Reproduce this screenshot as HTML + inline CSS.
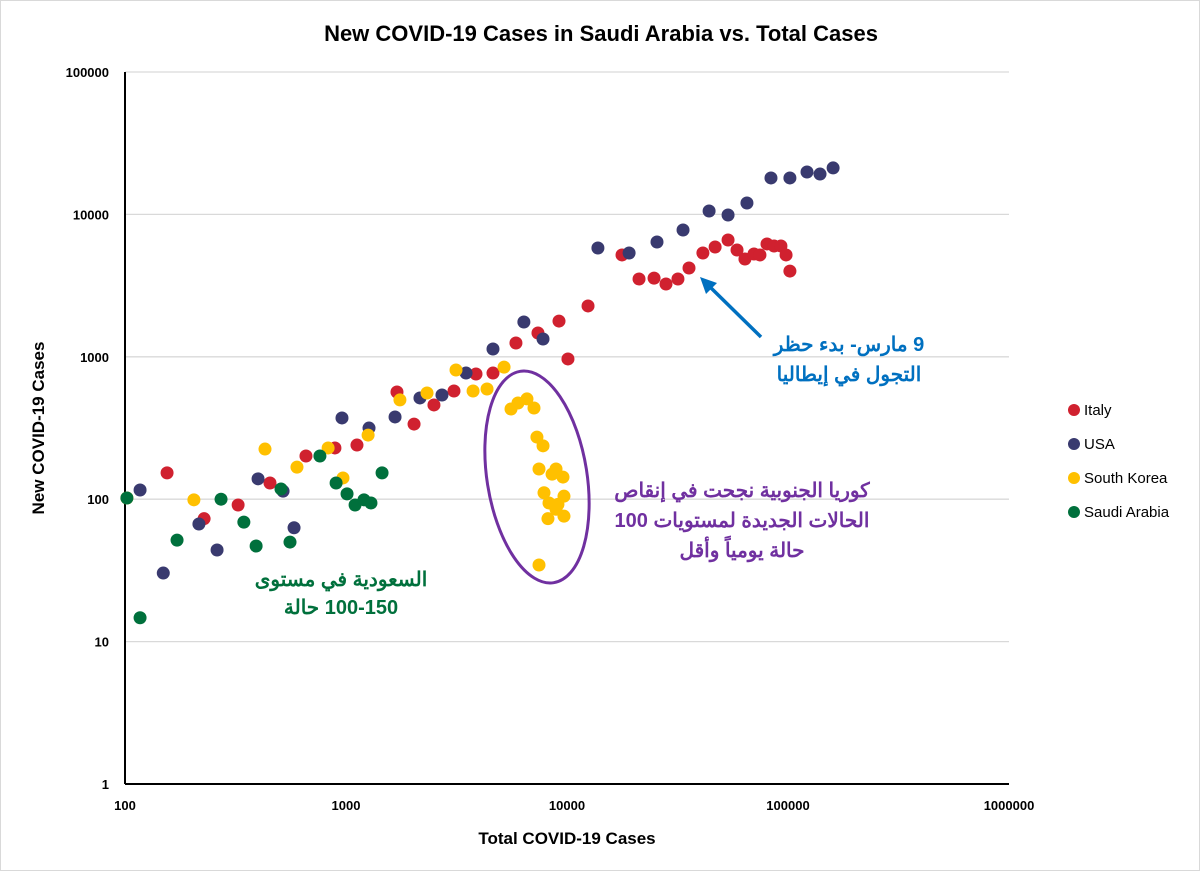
<!DOCTYPE html>
<html><head><meta charset="utf-8"><style>
html,body{margin:0;padding:0;background:#fff}
#wrap{position:relative;width:1198px;height:869px;border:1px solid #d9d9d9;overflow:hidden}
svg text{font-family:"Liberation Sans","Noto Sans CJK SC",sans-serif}
</style></head><body>
<div id="wrap">
<svg id="chart" width="1200" height="871"></svg>
</div>
<script>
const yTicks=[1,10,100,1000,10000,100000];
const xTicks=[100,1000,10000,100000,1000000];
const seriesNames=["Italy","USA","South Korea","Saudi Arabia"];
const seriesColors=["#D0212F","#393A6F","#FFC000","#00703C"];
const italyX=[155,228,325,453,659,891,1121,1701,2032,2500,3080,3875,4625,5875,7390,9200,10100,12450,17740,21180,24770,28050,31770,35650,41200,46800,53550,58800,63850,70150,74650,80350,86500,92900,98000,102000];
const italyY=[153,73,91,130,201,229,240,566,337,459,575,757,769,1250,1469,1782,966,2275,5190,3520,3570,3245,3520,4205,5360,5900,6610,5625,4860,5270,5190,6200,6000,6000,5190,4000];
const usaX=[117,149,216,261,400,519,582,959,1271,1667,2161,2718,3493,4625,6380,7790,13800,19100,25540,33500,43950,53550,65200,83750,102000,121900,139600,160000];
const usaY=[116,30.3,67,44,139,114,63,372,316,378,514,539,769,1135,1755,1333,5810,5360,6400,7770,10570,9900,12030,18030,18030,19850,19200,21200];
const koreaX=[102,205,430,600,830,969,1259,1754,2326,3146,3758,4347,5190,5580,6000,6590,7090,7310,7790,7470,8920,9590,8560,7870,9690,8290,8920,8200,9690,9100,7470];
const koreaY=[102,99,225,168,229,141,282,498,557,808,575,594,846,430,474,506,437,273,237,163,163,143,150,111,105,94,85,73,76,92,34.5];
const saudiX=[102,117,172,272,345,392,508,558,762,902,1011,1099,1206,1297,1456];
const saudiY=[102,14.7,51.6,100,69,46.9,118,50,201,130,109,91,99,94,153];
const allX=[italyX,usaX,koreaX,saudiX], allY=[italyY,usaY,koreaY,saudiY];

const L=124,R=1008,T=71,B=783;
const xS=v=>L+(Math.log10(v)-2)/4*(R-L);
const yS=v=>B-(Math.log10(v))/5*(B-T);
const svg=document.getElementById('chart');
const NS="http://www.w3.org/2000/svg";
function mk(tag,attrs,parent){const e=document.createElementNS(NS,tag);for(const k in attrs)e.setAttribute(k,attrs[k]);(parent||svg).appendChild(e);return e;}

// gridlines & y labels
yTicks.forEach(v=>{
  if(v>1){const g=mk('line',{x1:L,x2:R,y1:yS(v),y2:yS(v),stroke:'#d9d9d9','stroke-width':1.3});
  
  }
  const t=mk('text',{x:108,y:yS(v)+5,'text-anchor':'end','font-size':13,'font-weight':'bold',fill:'#000'});
  t.textContent=v;
  
  
});
xTicks.forEach(v=>{
  const t=mk('text',{x:xS(v),y:809,'text-anchor':'middle','font-size':13,'font-weight':'bold',fill:'#000'});
  t.textContent=v;
  
  
});
const ya=mk('line',{x1:L,x2:L,y1:T,y2:B,stroke:'#000','stroke-width':2});


const xa=mk('line',{x1:L,x2:R,y1:B,y2:B,stroke:'#000','stroke-width':2});



// title & axis titles
let t=mk('text',{x:600,y:40,'text-anchor':'middle','font-size':22,'font-weight':'bold',fill:'#000'});
t.textContent='New COVID-19 Cases in Saudi Arabia vs. Total Cases';


t=mk('text',{x:566,y:843,'text-anchor':'middle','font-size':17,'font-weight':'bold',fill:'#000'});
t.textContent='Total COVID-19 Cases';


t=mk('text',{x:0,y:0,'text-anchor':'middle','font-size':17,'font-weight':'bold',fill:'#000',transform:'translate(43,427) rotate(-90)'});
t.textContent='New COVID-19 Cases';



// points
const order=[3,2,1,0];
[0,1,2,3].forEach(s=>{
  allX[s].forEach((xv,i)=>{
    const c=mk('circle',{cx:xS(xv),cy:yS(allY[s][i]),r:6.5,fill:seriesColors[s]});
    
    
  });
});

// legend
seriesNames.forEach((n,i)=>{
  const y=409+i*34;
  const c=mk('circle',{cx:1073,cy:y,r:6,fill:seriesColors[i]});
  
  
  const tx=mk('text',{x:1083,y:y+5,'font-size':15,fill:'#000'});
  tx.textContent=n;
  
  
});

// ellipse annotation
const el=mk('ellipse',{cx:536,cy:476,rx:50,ry:107,fill:'none',stroke:'#7030A0','stroke-width':3,transform:'rotate(-9 536 476)'});


// arrow
const ar=mk('line',{x1:760,y1:336,x2:707,y2:284,stroke:'#0070C0','stroke-width':3.5});


const ah=mk('polygon',{points:'699,276 716,282 705,293',fill:'#0070C0'});



function arab(lines,x,y0,dy,color,name){
  lines.forEach((s,i)=>{
    const tx=mk('text',{x:x,y:y0+i*dy,'text-anchor':'middle','font-size':20,'font-weight':'bold',fill:color,direction:'rtl'});
    tx.textContent=s;
    
    
  });
}
arab(['9 مارس- بدء حظر','التجول في إيطاليا'],848,350,30,'#0070C0','italy-annotation');
arab(['كوريا الجنوبية نجحت في إنقاص','الحالات الجديدة لمستويات 100','حالة يومياً وأقل'],741,496,30,'#7030A0','korea-annotation');
arab(['السعودية في مستوى','100-150 حالة'],340,585,28,'#00703C','saudi-annotation');
</script>
</body></html>
